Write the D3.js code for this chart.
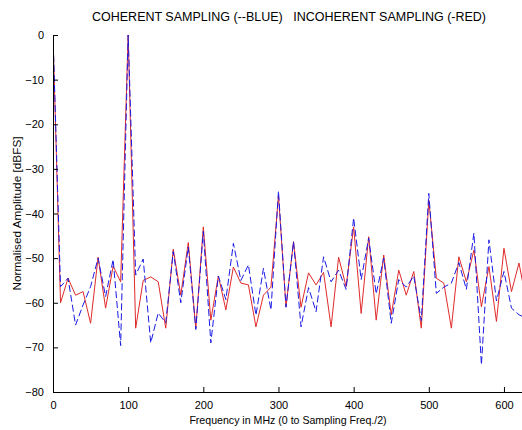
<!DOCTYPE html>
<html lang="en">
<head>
    <meta charset="UTF-8">
    <title>Coherent vs incoherent sampling</title>
    <script src="https://d3js.org/d3.v7.min.js"></script>
    <style>
        body{
            margin: 0;
            background: white;
        }
        svg{
            display: block;
            font-family: "Liberation Sans", Arial, sans-serif;
        }
        .axis text{
            font-size: 11px;
            fill: #000;
        }
        .axis path, .axis line{
            stroke: #000;
        }
    </style>
</head>
<body>
<svg></svg>
<script>
    // frequency bins (MHz)
    const freqs = [0,10,20,30,40,50,60,70,80,90,100,110,120,130,140,150,160,170,180,190,
        200,210,220,230,240,250,260,270,280,290,300,310,320,330,340,350,360,370,380,390,
        400,410,420,430,440,450,460,470,480,490,500,510,520,530,540,550,560,570,580,590,
        600,610,620,630];

    // coherent sampling (blue, dashed)
    const coherent = [0,-56.4,-54.5,-65,-60.5,-56.4,-50,-58.6,-50.3,-69.6,0,-53.8,-50.2,-69,-62.3,-64.5,-48.5,-60,-47.5,-66,
        -44,-69,-54,-59.3,-46.7,-55,-51.5,-62.8,-52.3,-61.6,-35,-61,-46.3,-65.4,-56.6,-62,-49.7,-55.3,-52.7,-57,
        -41,-54.8,-45.5,-58,-50,-64.6,-54.8,-56.5,-54,-64,-35.5,-57.9,-56.5,-55.6,-51,-57,-44.4,-73.9,-45.9,-59.6,
        -53,-61.2,-62.7,-63.5];

    // incoherent sampling (red, solid)
    const incoherent = [0,-60,-54.5,-58.3,-57.5,-64.6,-49.8,-61.2,-51.8,-55.3,0,-65.7,-55,-54.2,-55.3,-65.7,-48,-58.3,-46.5,-65.7,
        -43,-63.9,-54,-61.6,-52,-55.6,-56,-65.4,-58.3,-56.5,-36,-60.9,-46.3,-61,-53.3,-56,-53.2,-65.4,-49.8,-56.4,
        -43,-62.4,-45.2,-63.9,-49.3,-62.7,-52.7,-58.3,-53,-65.7,-37,-54.5,-55.6,-65.7,-49.7,-55.3,-48.2,-60.9,-51.9,-64.2,
        -47.8,-57.5,-51.1,-60];

    const xTicks = [0,100,200,300,400,500,600];
    const yTicks = [0,-10,-20,-30,-40,-50,-60,-70,-80];

    const width = 522, height = 430;
    const margin = {left: 53, top: 35, right: 0, bottom: 38};

    const svg = d3.select("svg")
        .attr("width", width)
        .attr("height", height);

    const x = d3.scaleLinear()
        .domain([0, 624])
        .range([margin.left, width - margin.right]);
    const y = d3.scaleLinear()
        .domain([-80, 0])
        .range([height - margin.bottom, margin.top]);

    svg.append("clipPath").attr("id", "plot")
        .append("rect")
        .attr("x", margin.left).attr("y", 0)
        .attr("width", width - margin.left).attr("height", height - margin.bottom + 1);

    const line = d3.line()
        .x(d => x(d[0]))
        .y(d => y(d[1]));

    const plot = svg.append("g").attr("clip-path", "url(#plot)");

    plot.append("path")
        .datum(freqs.map((f, i) => [f, incoherent[i]]))
        .attr("d", line)
        .attr("fill", "none")
        .attr("stroke", "#e02a2a")
        .attr("stroke-width", 1);

    plot.append("path")
        .datum(freqs.map((f, i) => [f, coherent[i]]))
        .attr("d", line)
        .attr("fill", "none")
        .attr("stroke", "#1a1ae6")
        .attr("stroke-width", 1)
        .attr("stroke-dasharray", "7,3");

    // MATLAB style: inward ticks, no box
    svg.append("g")
        .attr("class", "axis")
        .attr("transform", `translate(0,${y(-80)})`)
        .call(d3.axisBottom(x).tickValues(xTicks).tickSizeInner(-5).tickSizeOuter(0).tickPadding(9))
        .call(g => g.select(".domain").attr("d", `M${margin.left},0.5H${width}`));

    svg.append("g")
        .attr("class", "axis")
        .attr("transform", `translate(${x(0)},0)`)
        .call(d3.axisLeft(y).tickValues(yTicks).tickSizeInner(-5).tickSizeOuter(0).tickPadding(9));

    svg.append("text")
        .attr("x", 289).attr("y", 21)
        .attr("text-anchor", "middle")
        .attr("font-size", 12.5)
        .style("white-space", "pre")
        .text("COHERENT SAMPLING (--BLUE)   INCOHERENT SAMPLING (-RED)");

    svg.append("text")
        .attr("x", 288).attr("y", 424)
        .attr("text-anchor", "middle")
        .attr("font-size", 10.6)
        .text("Frequency in MHz (0 to Sampling Freq./2)");

    svg.append("text")
        .attr("transform", `translate(21,${(y(0) + y(-80)) / 2}) rotate(-90)`)
        .attr("text-anchor", "middle")
        .attr("font-size", 11.8)
        .text("Normalised Amplitude [dBFS]");
</script>
</body>
</html>
